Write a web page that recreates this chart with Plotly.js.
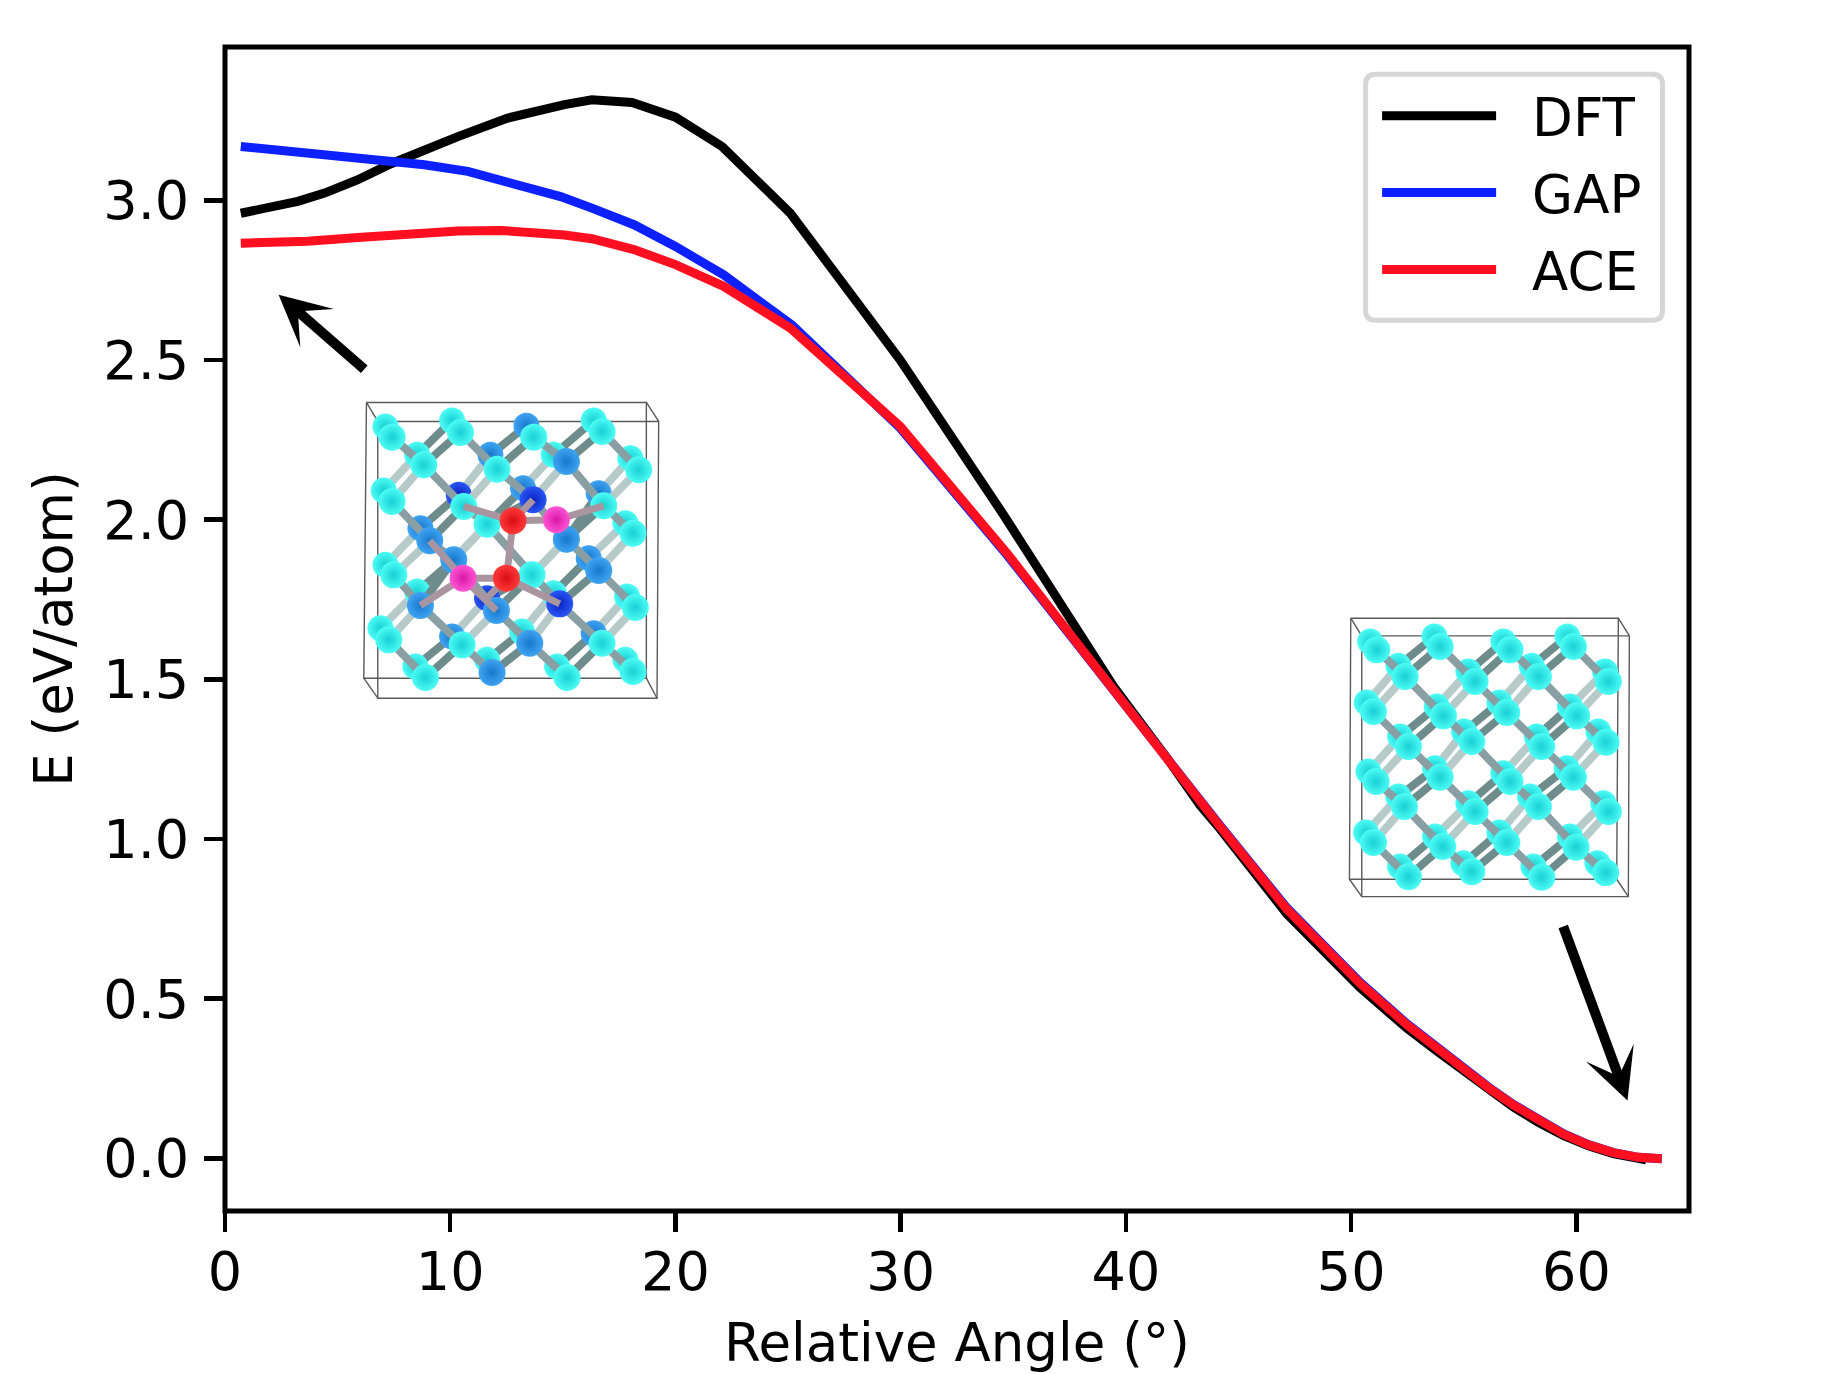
<!DOCTYPE html>
<html>
<head>
<meta charset="utf-8">
<script src="https://cdn.plot.ly/plotly-3.0.1.min.js"></script>
<style>body {margin:0;background:white}</style>
</head>
<body>
<div id="chart" style="width:1824px;height:1374px"></div>
<script>

// ---------------------------- DATA -------------------------------- //

var seriesNames = ['DFT','GAP','ACE']

var dftAngle = [0.7,1.9,3.23,4.42,5.9,7.37,8.85,10.34,12.55,14.33,15.07,16.29,18.07,20.0,22.07,25.1,29.98,34.57,37.97,39.45,41.81,43.3,44.2,47.15,50.39,52.48,53.8,54.98,56.1,57.2,58.31,59.42,60.53,61.64,62.75,63.1]
var dftEnergy = [2.96,2.976,2.997,3.023,3.065,3.115,3.159,3.2,3.258,3.289,3.3,3.315,3.307,3.261,3.169,2.96,2.5,2.015,1.64,1.478,1.255,1.105,1.03,0.765,0.535,0.407,0.336,0.274,0.214,0.161,0.113,0.072,0.039,0.015,0,-0.005]

var gapAngle = [0.7,2.2,4.42,6.64,8.85,10.78,12.55,14.9,16.29,18.16,20.0,22.14,25.17,29.69,29.98,34.72,38.27,41.21,42.71,44.18,47.15,50.39,52.48,53.8,54.98,56.1,57.2,58.31,59.42,60.53,61.64,62.75,63.79]
var gapEnergy = [3.169,3.159,3.143,3.13,3.112,3.091,3.06,3.012,2.976,2.924,2.856,2.767,2.61,2.308,2.287,1.89,1.568,1.3,1.166,1.042,0.784,0.552,0.421,0.347,0.284,0.223,0.169,0.119,0.077,0.043,0.018,0.003,-0.001]

var aceAngle = [0.7,1.9,3.67,5.9,8.11,10.34,12.26,14.04,15.07,16.29,18.16,20.0,22.14,25.1,29.69,29.98,34.72,38.27,41.21,42.71,44.18,47.15,50.39,52.48,53.8,54.98,56.1,57.2,58.31,59.42,60.53,61.64,62.75,63.79]
var aceEnergy = [2.866,2.866,2.872,2.884,2.896,2.904,2.906,2.9,2.892,2.88,2.846,2.799,2.731,2.6,2.313,2.292,1.895,1.571,1.3,1.164,1.039,0.78,0.548,0.418,0.345,0.282,0.221,0.167,0.118,0.076,0.042,0.018,0.003,-0.001]

var xTicks = [0,10,20,30,40,50,60]
var yTicks = [0,0.5,1,1.5,2,2.5,3]

// inset structures, 8 rows of 4 atoms each

var perfectFrontX = [110,300,510,700, 195,405,595,805, 100,310,500,710, 205,395,605,798, 108,300,510,700, 193,405,595,805, 100,308,500,708, 205,395,605,797]
var perfectFrontY = [150,140,150,140, 230,245,230,245, 335,348,338,348, 440,425,440,427, 545,532,545,532, 620,635,620,635, 728,740,728,742, 830,815,832,818]
var perfectBackX = [90,283,490,682, 175,385,575,795, 80,290,478,690, 180,372,590,775, 85,285,490,680, 175,385,570,790, 78,285,478,690, 180,370,580,772]
var perfectBackY = [125,110,125,110, 198,215,198,215, 308,320,308,320, 410,395,410,395, 515,505,520,505, 590,610,590,610, 698,710,698,710, 800,790,800,790]
var perfectFrameX = [32,835,830,28,32,null,65,868,865,65,65,null,32,65,null,835,868,null,830,865,null,28,65]
var perfectFrameY = [55,55,838,838,55,null,108,108,890,890,108,null,55,108,null,55,108,null,838,890,null,838,890]

var defectFrontX = [155,360,580,785, 250,470,678,895, 155,370,578,790, 268,440,678,878, 160,340,575,775, 240,468,658,885, 145,365,568,785, 255,455,680,878]
var defectFrontY = [172,158,172,155, 255,268,245,270, 365,380,360,378, 483,433,478,460, 585,540,585,572, 677,692,672,683, 780,795,790,790, 893,878,893,875]
var defectBackX = [135,335,558,760, 230,450,640,870, 130,355,548,775, 240,440,678,855, 135,340,575,745, 230,440,640,860, 120,335,545,760, 225,440,650,855]
var defectBackY = [140,122,138,122, 225,225,225,235, 332,345,325,340, 445,433,478,430, 555,540,585,535, 635,655,640,650, 745,770,755,760, 860,840,860,840]
var defectFrontKind = ['c','c','c','c', 'c','c','b','c', 'c','c','d','c', 'b','c','b','c', 'c','b','c','b', 'b','b','d','c', 'c','c','b','c', 'c','b','c','c']
var defectBackKind = ['c','c','b','c', 'c','b','c','c', 'c','d','b','b', 'b','c','b','c', 'c','b','c','b', 'c','d','c','c', 'c','b','c','b', 'c','c','c','c']
var defectFrameX = [78,918,918,70,78,null,112,955,950,112,112,null,78,112,null,918,955,null,918,950,null,70,112]
var defectFrameY = [68,68,895,895,68,null,125,125,955,955,125,null,68,125,null,68,125,null,895,955,null,895,955]

// the four displaced atoms in the middle of the left inset and their bonds
var coreX = [518,498,648,368]
var coreY = [423,595,420,595]
var coreKind = ['r','r','m','m']
var coreBondX = [518,370,null,518,578,null,518,648,null,518,498,null,498,368,null,498,658,null,498,440,null,648,790,null,368,240,null,368,268,null,368,468]
var coreBondY = [423,380,null,423,360,null,423,420,null,423,595,null,595,595,null,595,672,null,595,655,null,420,378,null,595,677,null,595,483,null,595,692]

var atomFill = {c:'#4dfcf5', b:'#3fa4f2', d:'#2a55f5', r:'#ff3a3a', m:'#ff55d4'}
var atomEdge = {c:'#18d0d4', b:'#1878cc', d:'#0a24c0', r:'#d80c14', m:'#d818a8'}



// ---------------------------- PAGE GEOMETRY ------------------------- //

var L = 224.5, T = 47.3, W = 1464.5, H = 1163.7

function paperX(p) {return (p-L)/W}
function paperY(p) {return 1-(p-T)/H}


// Bonds of the diamond lattice, from row and column of the atoms
// -------------

function bondLines(xs,ys,kind) {
    var outX = []
    var outY = []
    for (var r=0;r<8;r++) {
        for (var c=0;c<4;c++) {
            var target = -1
            if (kind == 'dark' && r%2 == 1 && c < 3) {target = (r-1)*4+c+1}
            if (kind == 'light' && r%2 == 0 && r > 0) {target = (r-1)*4+c}
            if (kind == 'diag' && r < 7) {
                if (r%2 == 0) {target = (r+1)*4+c}
                else if (c < 3) {target = (r+1)*4+c+1}
            }
            if (target < 0) {continue}
            outX.push(xs[r*4+c],xs[target],null)
            outY.push(ys[r*4+c],ys[target],null)
        }
    }
    return {x:outX,y:outY}
}


function lineTrace(x,y,color,width,axes) {
    return {x:x,y:y,xaxis:axes[0],yaxis:axes[1],mode:'lines',showlegend:false,hoverinfo:'skip',
        line:{color:color,width:width}}
}

function atomTrace(x,y,kinds,size,axes) {
    return {x:x,y:y,xaxis:axes[0],yaxis:axes[1],mode:'markers',showlegend:false,hoverinfo:'skip',
        marker:{size:size,
            color:kinds.map(function (k) {return atomFill[k]}),
            gradient:{type:'radial',color:kinds.map(function (k) {return atomEdge[k]})},
            line:{width:0}}}
}


function insetTraces(frontX,frontY,backX,backY,backKind,frameX,frameY,axes) {
    var out = []
    out.push(lineTrace(frameX,frameY,'#5a5a5a',1.4,axes))

    var kinds = [['dark',backX,backY,'#6f8c8c'],['light',backX,backY,'#b7caca'],
                 ['dark',frontX,frontY,'#6f8c8c'],['light',frontX,frontY,'#b7caca']]
    for (var i=0;i<2;i++) {
        var b = bondLines(kinds[i][1],kinds[i][2],kinds[i][0])
        out.push(lineTrace(b.x,b.y,kinds[i][3],8,axes))
    }
    out.push(atomTrace(backX,backY,backKind,26,axes))
    for (var i=2;i<4;i++) {
        var b = bondLines(kinds[i][1],kinds[i][2],kinds[i][0])
        out.push(lineTrace(b.x,b.y,kinds[i][3],8,axes))
    }
    var d = bondLines(frontX,frontY,'diag')
    out.push(lineTrace(d.x,d.y,'#8a9fa4',8,axes))
    return out
}


// ---------------------------- PLOT -------------------------------- //

var data = [
    {x:dftAngle,y:dftEnergy,name:seriesNames[0],legendgroup:'a',mode:'lines',line:{color:'#000000',width:9}},
    {x:gapAngle,y:gapEnergy,name:seriesNames[1],legendgroup:'b',mode:'lines',line:{color:'#0d20ff',width:9}},
    {x:aceAngle,y:aceEnergy,name:seriesNames[2],legendgroup:'c',mode:'lines',line:{color:'#ff0f20',width:9}},
]

// left inset, with the defect
var axesA = ['x2','y2']
data = data.concat(insetTraces(defectFrontX,defectFrontY,defectBackX,defectBackY,defectBackKind,defectFrameX,defectFrameY,axesA))
data.push(atomTrace(defectFrontX,defectFrontY,defectFrontKind,27,axesA))
data.push(lineTrace(coreBondX,coreBondY,'#a8959f',7,axesA))
data.push(atomTrace(coreX,coreY,coreKind,27,axesA))

// right inset, perfect lattice
var axesB = ['x3','y3']
var allCyan = perfectFrontX.map(function () {return 'c'})
data = data.concat(insetTraces(perfectFrontX,perfectFrontY,perfectBackX,perfectBackY,allCyan,perfectFrameX,perfectFrameY,axesB))
data.push(atomTrace(perfectFrontX,perfectFrontY,allCyan,27,axesB))


var fontName = '"DejaVu Sans", sans-serif'
var legendLeft = paperX(1377)
var r = 10 // corner of the legend box
var bx0 = 1365.5, bx1 = 1662.5, by0 = 74.5, by1 = 320.5

var legendBox = 'M'+paperX(bx0+r)+','+paperY(by0)
    +' L'+paperX(bx1-r)+','+paperY(by0)+' Q'+paperX(bx1)+','+paperY(by0)+' '+paperX(bx1)+','+paperY(by0+r)
    +' L'+paperX(bx1)+','+paperY(by1-r)+' Q'+paperX(bx1)+','+paperY(by1)+' '+paperX(bx1-r)+','+paperY(by1)
    +' L'+paperX(bx0+r)+','+paperY(by1)+' Q'+paperX(bx0)+','+paperY(by1)+' '+paperX(bx0)+','+paperY(by1-r)
    +' L'+paperX(bx0)+','+paperY(by0+r)+' Q'+paperX(bx0)+','+paperY(by0)+' '+paperX(bx0+r)+','+paperY(by0)+' Z'

var layout = {
    width: 1824,
    height: 1374,
    paper_bgcolor: 'white',
    plot_bgcolor: 'white',
    font: {family:fontName,size:54,color:'black'},
    margin: {l:L,r:1824-L-W,t:T,b:1374-T-H,pad:0},
    hovermode: false,
    xaxis: {
        range: [0,65],
        tickmode: 'array',
        tickvals: xTicks,
        ticks: 'outside',
        ticklen: 20,
        tickwidth: 4.5,
        tickcolor: 'black',
        ticklabelstandoff: -7,
        showgrid: false,
        zeroline: false,
        showline: false,
        title: {text:'Relative Angle (°)',font:{size:53},standoff:22},
    },
    yaxis: {
        range: [-0.165,3.4806],
        tickmode: 'array',
        tickvals: yTicks,
        tickformat: '.1f',
        ticks: 'outside',
        ticklen: 20,
        tickwidth: 4.5,
        tickcolor: 'black',
        ticklabelstandoff: 4,
        showgrid: false,
        zeroline: false,
        showline: false,
        title: {text:'E (eV/atom)',font:{size:53},standoff:13},
    },
    xaxis2: {domain:[paperX(340),paperX(680)],range:[0,1020],anchor:'y2',visible:false,fixedrange:true},
    yaxis2: {domain:[paperY(720),paperY(380)],range:[1020,0],anchor:'x2',visible:false,fixedrange:true},
    xaxis3: {domain:[paperX(1340),paperX(1660)],range:[0,960],anchor:'y3',visible:false,fixedrange:true},
    yaxis3: {domain:[paperY(940),paperY(600)],range:[1020,0],anchor:'x3',visible:false,fixedrange:true},
    legend: {
        x: legendLeft,
        xanchor: 'left',
        y: paperY(75),
        yanchor: 'top',
        bgcolor: 'rgba(0,0,0,0)',
        borderwidth: 0,
        itemwidth: 114,
        tracegroupgap: 5,
        font: {size:53},
    },
    shapes: [
        {type:'path',xref:'paper',yref:'paper',path:legendBox,fillcolor:'white',line:{color:'#d6d6d6',width:5}},
        {type:'rect',xref:'paper',yref:'paper',x0:0,x1:1,y0:0,y1:1,line:{color:'black',width:5}},
    ],
    annotations: [
        {x:2.38,y:2.705,ax:6.25,ay:2.467,axref:'x',ayref:'y',xref:'x',yref:'y',text:'',showarrow:true,
            arrowhead:3,arrowsize:0.85,arrowwidth:10,arrowcolor:'black',standoff:0},
        {x:62.27,y:0.181,ax:59.39,ay:0.731,axref:'x',ayref:'y',xref:'x',yref:'y',text:'',showarrow:true,
            arrowhead:3,arrowsize:0.85,arrowwidth:10,arrowcolor:'black',standoff:0},
    ],
}

Plotly.newPlot('chart',data,layout,{displayModeBar:false,staticPlot:true}).then(function () {
    // matplotlib leaves a wider gap between the legend line and its label
    document.querySelectorAll('.legendtext').forEach(function (t) {
        t.setAttribute('x',parseFloat(t.getAttribute('x'))+31)
    })
    // the moved labels must not be cut off by the legend clip
    document.querySelectorAll('.legend .scrollbox').forEach(function (s) {
        s.removeAttribute('clip-path')
    })
})

</script>
</body>
</html>
